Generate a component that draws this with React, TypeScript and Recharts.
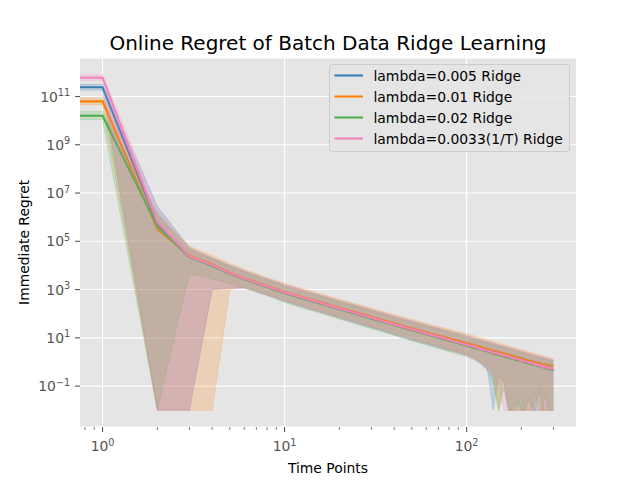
import React from "react";
import { Area, CartesianGrid, ComposedChart, Legend, Line, XAxis, YAxis } from "recharts";

// time axis (first point sits on the left edge, like the clipped t=0 point of the original)
const timePoints = [0.75, 1, 2, 3, 4, 5, 6, 7, 8, 9, 10, 12, 14, 16, 18, 20, 23, 26, 30, 35, 40, 45, 50, 60, 70, 80, 90, 100, 110, 120, 130, 140, 150, 160, 170, 180, 190, 200, 210, 220, 230, 240, 250, 260, 270, 280, 290, 300];

// lambda=0.005
const ridge005Mean = [2.4e11, 2.4e11, 5.2e5, 2.4e4, 1.03e4, 4.7e3, 2.85e3, 1.88e3, 1.33e3, 990, 745, 500, 352, 266, 203, 161, 119, 91, 66, 48, 35, 27.4, 22, 14.8, 10.7, 8.0, 6.3, 5.0, 4.1, 3.4, 2.85, 2.42, 2.08, 1.82, 1.6, 1.4, 1.25, 1.13, 1.02, 0.92, 0.84, 0.76, 0.7, 0.65, 0.6, 0.56, 0.52, 0.48];
const ridge005High = [3.2e11, 3.2e11, 2.9e6, 5.5e4, 2.0e4, 1.0e4, 6.0e3, 4.0e3, 2.8e3, 2.05e3, 1.56e3, 1.06e3, 745, 565, 430, 340, 258, 198, 144, 106, 79, 61, 50, 34, 25, 19, 15, 12.2, 9.8, 8.1, 6.8, 5.8, 5.0, 4.4, 3.9, 3.4, 3.0, 2.7, 2.45, 2.2, 2.0, 1.82, 1.67, 1.55, 1.43, 1.32, 1.22, 1.14];
const ridge005Low = [1.8e11, 1.8e11, 0.01, 0.01, 1.0e3, 1.15e3, 1.2e3, 850, 600, 450, 330, 215, 150, 112, 85, 66, 48, 36, 26, 18.5, 13.5, 10.2, 8.0, 5.6, 4.0, 3.0, 2.4, 1.9, 1.4, 0.9, 0.5, 0.01, 0.25, 0.15, 0.01, 0.01, 0.01, 0.01, 0.01, 0.03, 0.01, 0.01, 0.08, 0.01, 0.01, 0.01, 0.01, 0.01];

// lambda=0.01
const ridge01Mean = [6.3e10, 6.3e10, 3.1e5, 2.6e4, 1.12e4, 5.0e3, 3.0e3, 2.0e3, 1.42e3, 1.06e3, 800, 545, 390, 292, 224, 178, 132, 102, 75, 54, 40, 31, 25, 17.2, 12.5, 9.6, 7.6, 6.1, 5.0, 4.2, 3.5, 3.0, 2.6, 2.28, 2.0, 1.78, 1.58, 1.42, 1.28, 1.16, 1.06, 0.97, 0.9, 0.83, 0.8, 0.74, 0.7, 0.72];
const ridge01High = [8.9e10, 8.9e10, 1.2e6, 6.3e4, 2.6e4, 1.2e4, 7.0e3, 4.6e3, 3.1e3, 2.35e3, 1.8e3, 1.2e3, 865, 650, 500, 395, 295, 228, 168, 120, 91, 71, 58, 40, 29, 23, 18, 14.6, 11.8, 9.8, 8.2, 7.0, 6.0, 5.2, 4.6, 4.05, 3.6, 3.25, 2.9, 2.62, 2.38, 2.17, 2.0, 1.84, 1.7, 1.58, 1.47, 1.38];
const ridge01Low = [4.5e10, 4.5e10, 0.01, 0.01, 0.01, 1.0e3, 1.3e3, 900, 640, 480, 350, 235, 165, 122, 92, 72, 53, 40, 29, 21, 15, 11.6, 9.2, 6.2, 4.4, 3.3, 2.6, 2.0, 1.5, 1.0, 0.6, 0.3, 0.01, 0.2, 0.01, 0.01, 0.01, 0.01, 0.01, 0.01, 0.01, 0.05, 0.01, 0.01, 0.01, 0.01, 0.01, 0.01];

// lambda=0.02
const ridge02Mean = [1.6e10, 1.6e10, 4.2e5, 2.2e4, 9.5e3, 4.5e3, 2.7e3, 1.78e3, 1.26e3, 920, 700, 470, 335, 250, 192, 152, 112, 86, 62, 45, 33, 26, 20.5, 14, 10, 7.6, 6.0, 4.7, 3.8, 3.2, 2.7, 2.25, 1.95, 1.7, 1.5, 1.32, 1.17, 1.06, 0.95, 0.86, 0.78, 0.72, 0.66, 0.6, 0.56, 0.52, 0.49, 0.46];
const ridge02High = [2.4e10, 2.4e10, 1.5e6, 4.4e4, 1.9e4, 9.2e3, 5.4e3, 3.6e3, 2.5e3, 1.85e3, 1.38e3, 945, 665, 505, 385, 305, 228, 175, 126, 92, 69, 53, 44, 30, 22, 16.7, 13.2, 10.6, 8.6, 7.2, 6.0, 5.1, 4.4, 3.85, 3.4, 3.0, 2.65, 2.38, 2.15, 1.95, 1.77, 1.62, 1.5, 1.39, 1.29, 1.2, 1.12, 1.05];
const ridge02Low = [1.1e10, 1.1e10, 0.01, 4.5e3, 2.8e3, 1.8e3, 1.15e3, 780, 550, 400, 290, 190, 134, 100, 77, 60, 44, 33, 24, 17.2, 12.6, 9.6, 7.5, 5.0, 3.6, 2.7, 2.1, 1.7, 1.2, 0.8, 0.45, 0.15, 0.01, 0.08, 0.01, 0.01, 0.02, 0.01, 0.01, 0.01, 0.01, 0.01, 0.01, 0.01, 0.04, 0.01, 0.01, 0.01];

// lambda=0.0033 (1/T)
const ridgeInvTMean = [6e11, 6e11, 6.4e5, 2.4e4, 1.05e4, 4.8e3, 2.9e3, 1.9e3, 1.35e3, 1.0e3, 760, 515, 362, 268, 210, 164, 122, 92, 68, 49, 36, 28, 22.5, 15.2, 11, 8.4, 6.4, 5.2, 4.3, 3.4, 3.0, 2.45, 2.2, 1.85, 1.7, 1.42, 1.34, 1.12, 1.08, 0.92, 0.9, 0.76, 0.75, 0.64, 0.64, 0.55, 0.56, 0.5];
const ridgeInvTHigh = [7.9e11, 7.9e11, 2.5e6, 5.0e4, 2.1e4, 1.0e4, 6.0e3, 4.0e3, 2.8e3, 2.1e3, 1.58e3, 1.08e3, 760, 570, 445, 348, 262, 200, 146, 107, 79, 62, 50, 34, 25, 19, 15.3, 12.3, 10, 8.2, 7.0, 5.9, 5.1, 4.45, 3.95, 3.5, 3.1, 2.78, 2.5, 2.25, 2.05, 1.87, 1.72, 1.59, 1.47, 1.37, 1.28, 1.2];
const ridgeInvTLow = [4.6e11, 4.6e11, 0.01, 0.01, 1.0e3, 1.1e3, 1.15e3, 820, 590, 440, 320, 215, 150, 112, 87, 68, 50, 38, 28, 20, 14.5, 11.2, 8.8, 5.9, 4.2, 3.2, 2.4, 1.9, 1.4, 0.9, 0.5, 0.25, 0.1, 0.01, 0.01, 0.01, 0.01, 0.06, 0.01, 0.01, 0.01, 0.01, 0.01, 0.01, 0.01, 0.01, 0.02, 0.01];

const xMajorTicks = [1, 10, 100];
const xMinorTicks = [0.8, 0.9, 2, 3, 4, 5, 6, 7, 8, 9, 20, 30, 40, 50, 60, 70, 80, 90, 200, 300];
const yTicks = [1e-1, 1e1, 1e3, 1e5, 1e7, 1e9, 1e11];

const xDomain = [0.7517, 399];
const yDomain = [0.00202, 3.94e12];

const seriesList = [
  { key: "r005", name: "lambda=0.005 Ridge", color: "#377eb8", mean: ridge005Mean, low: ridge005Low, high: ridge005High },
  { key: "r01", name: "lambda=0.01 Ridge", color: "#ff7f00", mean: ridge01Mean, low: ridge01Low, high: ridge01High },
  { key: "r02", name: "lambda=0.02 Ridge", color: "#4daf4a", mean: ridge02Mean, low: ridge02Low, high: ridge02High },
  { key: "rinv", name: "lambda=0.0033(1/T) Ridge", color: "#f781bf", mean: ridgeInvTMean, low: ridgeInvTLow, high: ridgeInvTHigh },
];

const data = timePoints.map((t, i) => {
  const row: any = { t };
  seriesList.forEach((s) => {
    row[s.key] = s.mean[i];
    row[s.key + "Band"] = [s.low[i], s.high[i]];
  });
  return row;
});

const FONT = "DejaVu Sans";
const PLOT = { left: 80, right: 576, top: 58, bottom: 427 };

const logPx = (v: number) =>
  PLOT.left +
  ((PLOT.right - PLOT.left) * (Math.log10(v) - Math.log10(xDomain[0]))) /
    (Math.log10(xDomain[1]) - Math.log10(xDomain[0]));

const gridX = ({ xAxis }: any) =>
  xMajorTicks.map((v) => (xAxis && typeof xAxis.scale === "function" ? xAxis.scale(v) : logPx(v)));

const expLabel = (v: number) => {
  const e = Math.round(Math.log10(v));
  return e < 0 ? "\u2212" + Math.abs(e) : String(e);
};

function XTick(props: any) {
  const { x, y, payload } = props;
  const v = payload.value;
  const major = xMajorTicks.includes(v);
  return (
    <g>
      <line x1={x} x2={x} y1={y} y2={y + (major ? 4.9 : 2.8)} stroke="#555555" strokeWidth={major ? 1.1 : 0.8} />
      {major && (
        <text x={x} y={y + 24} textAnchor="middle" fill="#555555" fontSize={13.9} fontFamily={FONT}>
          10<tspan dy={-5.5} fontSize={9.7}>{expLabel(v)}</tspan>
        </text>
      )}
    </g>
  );
}

function YTick(props: any) {
  const { x, y, payload } = props;
  return (
    <g>
      <line x1={x - 4.9} x2={x} y1={y} y2={y} stroke="#555555" strokeWidth={1.1} />
      <text x={x - 9.8} y={y + 5} textAnchor="end" fill="#555555" fontSize={13.9} fontFamily={FONT}>
        10<tspan dy={-5.5} fontSize={9.7}>{expLabel(payload.value)}</tspan>
      </text>
    </g>
  );
}

function LegendBox() {
  return (
    <svg width={242} height={89} style={{ display: "block" }}>
      <rect x={0.5} y={0.5} width={240} height={87} rx={3} fill="#e5e5e5" fillOpacity={0.8} stroke="#cccccc" />
      {seriesList.map((s, i) => (
        <g key={s.key}>
          <line x1={5.5} x2={34} y1={11.5 + i * 21} y2={11.5 + i * 21} stroke={s.color} strokeWidth={2.08} />
          <text x={44.5} y={16.5 + i * 21} fontSize={13.9} fontFamily={FONT} fill="#000000">
            {s.name}
          </text>
        </g>
      ))}
    </svg>
  );
}

export default function App() {
  return (
    <div style={{ position: "absolute", left: 0, top: 0, width: 640, height: 480, background: "#ffffff" }}>
      <ComposedChart width={640} height={480} data={data} margin={{ top: 58, right: 64, bottom: 23, left: 0 }}>
        <CartesianGrid
          fill="#e5e5e5"
          stroke="#ffffff"
          strokeWidth={1.1}
          verticalCoordinatesGenerator={gridX}
        />
        <XAxis
          dataKey="t"
          type="number"
          scale="log"
          domain={xDomain}
          allowDataOverflow
          ticks={[...xMinorTicks, ...xMajorTicks].sort((a, b) => a - b)}
          interval={0}
          height={30}
          axisLine={false}
          tickLine={false}
          tickSize={0}
          tickMargin={0}
          tick={<XTick />}
        />
        <YAxis
          type="number"
          scale="log"
          domain={yDomain}
          allowDataOverflow
          ticks={yTicks}
          interval={0}
          width={80}
          axisLine={false}
          tickLine={false}
          tickSize={0}
          tickMargin={0}
          tick={<YTick />}
        />
        {seriesList.flatMap((s, i) => [
          <Line
            key={s.key + "line"}
            dataKey={s.key}
            type="linear"
            stroke={s.color}
            strokeWidth={2.08}
            dot={false}
            activeDot={false}
            isAnimationActive={false}
            zIndex={110 + i * 2}
          />,
          <Area
            key={s.key + "band"}
            dataKey={s.key + "Band"}
            type="linear"
            stroke={s.color}
            strokeOpacity={0.2}
            strokeWidth={1}
            fill={s.color}
            fillOpacity={0.2}
            dot={false}
            activeDot={false}
            isAnimationActive={false}
            zIndex={111 + i * 2}
          />,
        ])}
        <Legend
          layout="vertical"
          align="center"
          verticalAlign="middle"
          wrapperStyle={{ left: 328.5, top: 64, width: 242, height: 89 }}
          content={() => <LegendBox />}
        />
      </ComposedChart>
      <svg width={640} height={480} style={{ position: "absolute", left: 0, top: 0, pointerEvents: "none" }}>
        <text x={328} y={49.5} textAnchor="middle" fontSize={20} fontFamily={FONT} fill="#000000">
          Online Regret of Batch Data Ridge Learning
        </text>
        <text x={328} y={472.5} textAnchor="middle" fontSize={13.9} fontFamily={FONT} fill="#000000">
          Time Points
        </text>
        <text transform="translate(29,242.4) rotate(-90)" textAnchor="middle" fontSize={13.9} fontFamily={FONT} fill="#000000">
          Immediate Regret
        </text>
      </svg>
    </div>
  );
}
